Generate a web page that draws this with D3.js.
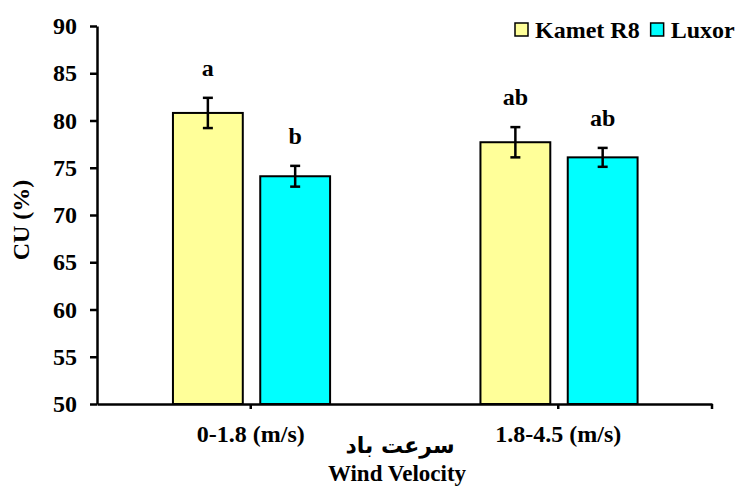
<!DOCTYPE html>
<html>
<head>
<meta charset="utf-8">
<script src="https://cdn.jsdelivr.net/npm/d3@7"></script>
<style>
  body { margin: 0; background: #fff; }
</style>
</head>
<body>
<div id="chart"></div>
<script>
const categories = ["0-1.8 (m/s)", "1.8-4.5 (m/s)"]
const seriesNames = ["Kamet R8", "Luxor"]
const seriesColors = ["#FFFF99", "#00FFFF"]
const kametValues = [80.8, 77.7]
const kametErrors = [1.6, 1.6]
const kametLetters = ["a", "ab"]
const luxorValues = [74.1, 76.1]
const luxorErrors = [1.1, 1.0]
const luxorLetters = ["b", "ab"]
const yTicks = [50, 55, 60, 65, 70, 75, 80, 85, 90]

const width = 735
const height = 495
const margin = {top: 26, right: 23, bottom: 91, left: 97}
const serif = "'Liberation Serif', 'Times New Roman', Times, serif"

const svg = d3.select("#chart")
  .append("svg")
  .attr("width", width)
  .attr("height", height)
  .style("font-family", serif)
  .style("font-weight", "bold")

const rows = []
categories.forEach((c, i) => {
  rows.push({cat: c, s: seriesNames[0], v: kametValues[i], e: kametErrors[i], l: kametLetters[i], color: seriesColors[0]})
  rows.push({cat: c, s: seriesNames[1], v: luxorValues[i], e: luxorErrors[i], l: luxorLetters[i], color: seriesColors[1]})
})

const x0 = d3.scaleBand()
  .domain(categories)
  .range([margin.left, width - margin.right])
  .padding(0)
const x1 = d3.scaleBand()
  .domain(seriesNames)
  .range([x0.bandwidth() * 0.247, x0.bandwidth() * 0.758])
  .paddingInner(0.2)
const y = d3.scaleLinear()
  .domain([50, 90])
  .range([height - margin.bottom, margin.top])

// bars
svg.append("g").selectAll("rect")
  .data(rows)
  .join("rect")
    .attr("x", d => x0(d.cat) + x1(d.s))
    .attr("y", d => y(d.v))
    .attr("width", x1.bandwidth())
    .attr("height", d => y(50) - y(d.v))
    .attr("fill", d => d.color)
    .attr("stroke", "#000")
    .attr("stroke-width", 2)

// error bars
const err = svg.append("g").attr("stroke", "#000").attr("stroke-width", 2.5)
rows.forEach(d => {
  const cx = x0(d.cat) + x1(d.s) + x1.bandwidth() / 2
  err.append("line").attr("x1", cx).attr("x2", cx).attr("y1", y(d.v + d.e)).attr("y2", y(d.v - d.e))
  err.append("line").attr("x1", cx - 5).attr("x2", cx + 5).attr("y1", y(d.v + d.e)).attr("y2", y(d.v + d.e))
  err.append("line").attr("x1", cx - 5).attr("x2", cx + 5).attr("y1", y(d.v - d.e)).attr("y2", y(d.v - d.e))
})

// significance letters
svg.append("g").selectAll("text")
  .data(rows)
  .join("text")
    .attr("x", d => x0(d.cat) + x1(d.s) + x1.bandwidth() / 2)
    .attr("y", d => y(d.v + d.e) - 22)
    .attr("text-anchor", "middle")
    .style("font-size", "24px")
    .text(d => d.l)

// y axis
const yAxis = svg.append("g")
  .attr("transform", `translate(${margin.left},0)`)
  .call(d3.axisLeft(y).tickValues(yTicks).tickSize(7).tickSizeOuter(0).tickPadding(13))
  .attr("font-family", null).attr("font-size", null)
yAxis.selectAll("path, line").attr("stroke", "#000").attr("stroke-width", 2.5)
yAxis.selectAll("text").style("font-size", "24px").attr("fill", "#000")

// x axis
const xAxis = svg.append("g")
  .attr("transform", `translate(0,${y(50)})`)
  .call(d3.axisBottom(x0).tickSize(5).tickSizeOuter(0))
  .attr("font-family", null).attr("font-size", null)
xAxis.selectAll("path, line").attr("stroke", "#000").attr("stroke-width", 2.5)
xAxis.append("line")
  .attr("x1", x0.range()[1]).attr("x2", x0.range()[1])
  .attr("y1", 0).attr("y2", 5)
  .attr("stroke", "#000").attr("stroke-width", 2.5)
xAxis.selectAll("text")
  .attr("y", 38).attr("dy", 0)
  .style("font-size", "24px").attr("fill", "#000")

// axis titles
svg.append("text")
  .attr("transform", `translate(29,${(y(50) + y(90)) / 2 + 5}) rotate(-90)`)
  .attr("text-anchor", "middle")
  .style("font-size", "24px")
  .text("CU (%)")
svg.append("text")
  .attr("x", 400).attr("y", 453)
  .attr("text-anchor", "middle")
  .style("font-size", "22px")
  .style("font-family", "'DejaVu Sans', sans-serif")
  .attr("direction", "rtl")
  .text("سرعت باد")
svg.append("text")
  .attr("x", 397).attr("y", 481)
  .attr("text-anchor", "middle")
  .style("font-size", "23px")
  .text("Wind Velocity")

// legend
const legend = svg.append("g")
let lx = 515
seriesNames.forEach((s, i) => {
  legend.append("rect")
    .attr("x", lx).attr("y", 23).attr("width", 13).attr("height", 13)
    .attr("fill", seriesColors[i]).attr("stroke", "#000").attr("stroke-width", 1.5)
  const t = legend.append("text")
    .attr("x", lx + 20).attr("y", 38)
    .style("font-size", "24px")
    .text(s)
  lx += 20 + t.node().getComputedTextLength() + 11
})
</script>
</body>
</html>
